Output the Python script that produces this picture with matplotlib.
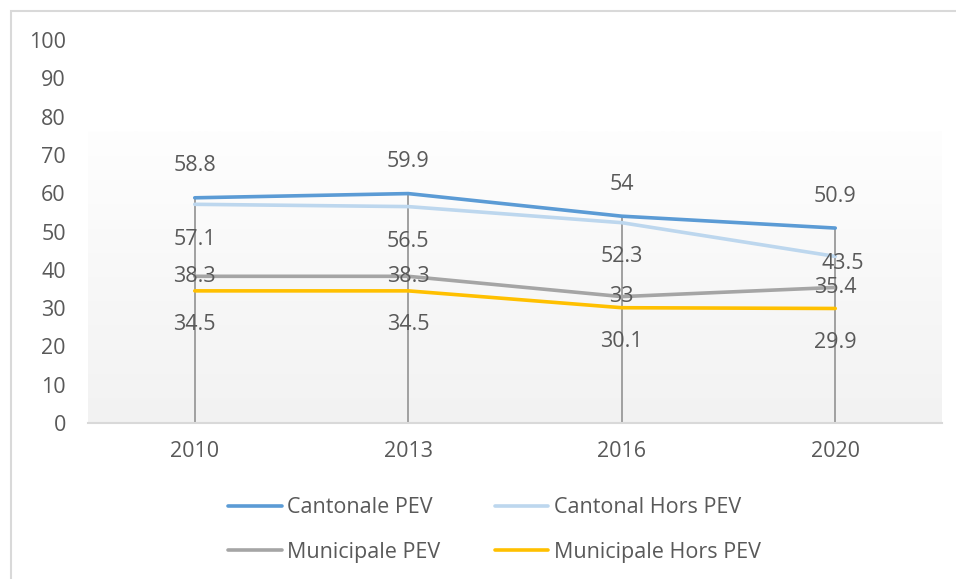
import matplotlib
matplotlib.use("Agg")
import matplotlib.pyplot as plt
import numpy as np
from matplotlib.patches import Rectangle
from matplotlib.lines import Line2D

years = ["2010", "2013", "2016", "2020"]
series_names = ["Cantonale PEV", "Cantonal Hors PEV", "Municipale PEV", "Municipale Hors PEV"]
cantonale_pev = [58.8, 59.9, 54, 50.9]
cantonal_hors_pev = [57.1, 56.5, 52.3, 43.5]
municipale_pev = [38.3, 38.3, 33, 35.4]
municipale_hors_pev = [34.5, 34.5, 30.1, 29.9]
y_ticks = [0, 10, 20, 30, 40, 50, 60, 70, 80, 90, 100]

colors = ["#5b9bd5", "#bdd7ee", "#a5a5a5", "#ffc000"]
data = [cantonale_pev, cantonal_hors_pev, municipale_pev, municipale_hors_pev]
# label offsets (pixels) per series
offsets = [
    [(0, 32)] * 4,
    [(0, -35), (0, -35), (0, -34), (7, -7)],
    [(0, 0)] * 4,
    [(0, -34)] * 4,
]

plt.rcParams['font.family'] = ['Open Sans', 'DejaVu Sans']
txt = "#595959"
FS = 15.5

W, H = 956, 579
fig = plt.figure(figsize=(W / 100, H / 100), dpi=100)
fig.patch.set_facecolor("white")

# outer chart border
fig.patches.append(Rectangle((11 / W, -0.1), 1.2, (H - 11) / H + 0.1, transform=fig.transFigure,
                             fill=False, edgecolor="#d9d9d9", linewidth=1.5))

ax = fig.add_axes([88 / W, (H - 423) / H, (942 - 88) / W, (423 - 40) / H])
ax.set_facecolor("white")

# gradient plot-area fill
grad = np.linspace(0, 1, 256).reshape(-1, 1)
c0 = np.array([0xf2, 0xf2, 0xf2]) / 255
c1 = np.array([0xfe, 0xfe, 0xfe]) / 255
img = c0 + (c1 - c0) * grad
img = img.reshape(256, 1, 3)
ax.imshow(img, extent=[-0.5, 3.5, 0, 76], origin="lower", aspect="auto", zorder=0)
ax.set_xlim(-0.5, 3.5)
ax.set_ylim(0, 100)

x = np.arange(len(years))
# drop lines
tops = np.max(np.array(data), axis=0)
ax.vlines(x, 0, tops, colors="#a0a0a0", linewidth=1.4, zorder=1)

for vals, c, name in zip(data, colors, series_names):
    ax.plot(x, vals, color=c, linewidth=2.6, solid_capstyle="round", zorder=2, label=name)

for vals, offs in zip(data, offsets):
    for xi, v, off in zip(x, vals, offs):
        ax.annotate(f"{v:g}", (xi, v), xytext=off, textcoords="offset pixels",
                    ha="center", va="center", fontsize=FS, color=txt, zorder=3)

for s in ["top", "right", "left"]:
    ax.spines[s].set_visible(False)
ax.spines["bottom"].set_color("#d9d9d9")
ax.spines["bottom"].set_linewidth(1.5)
ax.set_xticks(x)
ax.set_xticklabels(years)
ax.set_yticks(y_ticks)
ax.tick_params(axis="both", length=0, labelsize=FS, labelcolor=txt)
ax.tick_params(axis="y", pad=16)
ax.tick_params(axis="x", pad=13)

handles = [Line2D([0], [0], color=c, linewidth=2.6, solid_capstyle="round") for c in colors]
order = [0, 2, 1, 3]
leg = fig.legend([handles[i] for i in order], [series_names[i] for i in order],
                 loc="center", bbox_to_anchor=(494.5 / W, (H - 530) / H),
                 ncol=2, frameon=False, fontsize=FS, handlelength=2.5, handletextpad=0.25,
                 columnspacing=2.5, labelspacing=1.1, labelcolor=txt)

fig.savefig("out.png", dpi=100)
